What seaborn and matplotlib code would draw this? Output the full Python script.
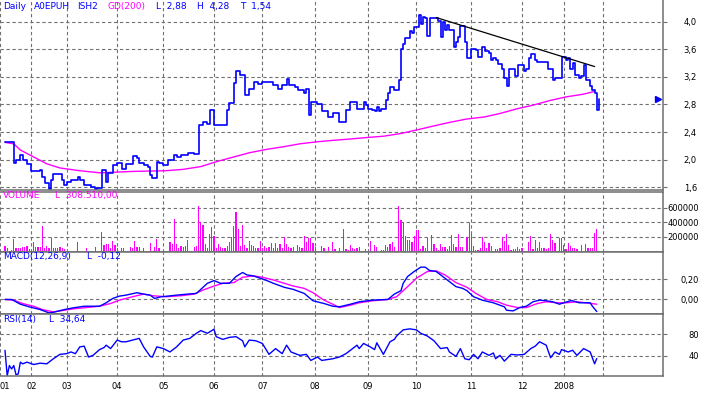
import matplotlib
matplotlib.use("Agg")
import matplotlib.pyplot as plt
import matplotlib.transforms as mtransforms
import seaborn as sns

sns.set_theme(style="white")
plt.rcParams['font.family'] = ['DejaVu Sans']
plt.rcParams['lines.scale_dashes'] = False

BLUE = '#0000ff'
MAGENTA = '#ff00ff'
GRID = '#707070'
FRAME = '#6e6e6e'

# ---------------- data ----------------
month_days = [12, 28, 51, 72, 95, 117, 141, 165, 187, 212, 235, 254, 272]
month_labels = ["02", "03", "04", "05", "06", "07", "08", "09", "10", "11", "12", "2008", ""]
first_label = "01"

price_days = [0, 4, 5, 7, 8, 10, 12, 14, 16, 17, 18, 20, 21, 22, 26, 27, 28, 30, 33, 34,
              36, 39, 41, 42, 44, 46, 47, 49, 51, 53, 55, 58, 60, 61, 63, 65, 66, 67, 69, 70,
              72, 74, 77, 78, 80, 83, 86, 88, 90, 92, 93, 95, 101, 102, 104, 105, 107, 109, 111, 113,
              115, 117, 120, 122, 124, 126, 128, 129, 132, 133, 136, 137, 138, 139, 142, 144, 147, 149, 152, 155,
              157, 160, 163, 164, 165, 167, 168, 169, 170, 171, 173, 174, 175, 177, 179, 180, 181, 182, 184, 185,
              186, 188, 189, 190, 191, 192, 193, 194, 196, 197, 198, 199, 200, 201, 202, 204, 205, 206, 207, 209,
              210, 212, 214, 215, 217, 218, 220, 221, 222, 223, 224, 226, 227, 228, 229, 232, 233, 236, 237, 238,
              239, 241, 242, 245, 247, 249, 250, 251, 253, 255, 256, 257, 258, 259, 261, 262, 263, 264, 266, 267,
              268, 269, 270]
price_vals = [2.25, 1.95, 2.00, 2.07, 1.99, 1.94, 1.84, 1.83, 1.85, 1.75, 1.66, 1.57, 1.71, 1.79, 1.71, 1.63, 1.68, 1.71, 1.75, 1.71,
              1.63, 1.61, 1.57, 1.59, 1.85, 1.68, 1.80, 1.92, 1.95, 1.87, 1.94, 2.05, 2.03, 1.95, 1.92, 1.90, 1.78, 1.73, 1.97, 1.95,
              1.92, 2.00, 2.07, 2.04, 2.07, 2.09, 2.08, 2.50, 2.54, 2.52, 2.72, 2.50, 2.72, 2.82, 3.11, 3.28, 3.23, 2.94, 3.02, 3.12,
              3.10, 3.12, 3.13, 3.08, 3.02, 3.08, 3.17, 3.08, 3.05, 3.01, 2.96, 3.02, 2.65, 2.83, 2.81, 2.70, 2.62, 2.68, 2.54, 2.72,
              2.84, 2.74, 2.84, 2.79, 2.74, 2.72, 2.70, 2.76, 2.71, 2.74, 2.87, 2.97, 3.06, 3.01, 3.16, 3.60, 3.68, 3.76, 3.86, 3.83,
              3.92, 4.09, 3.97, 4.07, 4.05, 3.79, 4.05, 4.06, 4.05, 4.01, 3.78, 3.99, 3.88, 3.95, 3.88, 3.64, 3.71, 3.78, 3.94, 3.71,
              3.47, 3.61, 3.59, 3.49, 3.63, 3.57, 3.55, 3.45, 3.47, 3.44, 3.39, 3.31, 3.19, 3.07, 3.32, 3.21, 3.37, 3.28, 3.32, 3.47,
              3.53, 3.45, 3.42, 3.41, 3.32, 3.16, 3.19, 3.18, 3.49, 3.44, 3.47, 3.31, 3.40, 3.23, 3.18, 3.21, 3.37, 3.16, 3.07, 3.01,
              2.97, 2.72, 2.88]

gd_days = [0, 4, 7, 13, 19, 25, 34, 43, 58, 73, 81, 89, 96, 104, 111, 119, 127, 134, 142, 149,
           157, 164, 172, 180, 187, 195, 202, 210, 218, 225, 233, 240, 248, 255, 263, 268]
gd_vals = [2.25, 2.23, 2.14, 2.04, 1.94, 1.88, 1.84, 1.81, 1.83, 1.84, 1.86, 1.90, 1.97, 2.04, 2.10, 2.15, 2.19, 2.23, 2.26, 2.28,
           2.30, 2.32, 2.34, 2.38, 2.43, 2.49, 2.54, 2.59, 2.62, 2.67, 2.74, 2.79, 2.86, 2.91, 2.95, 2.99]

trend_days = [196, 268]
trend_vals = [4.06, 3.35]

vol_days = [0, 1, 3, 4, 5, 6, 7, 8, 9, 10, 11, 13, 14, 15, 16, 17, 18, 19, 20, 21,
            22, 23, 24, 25, 26, 27, 33, 37, 41, 44, 45, 46, 47, 48, 49, 50, 51, 53, 54, 57,
            58, 59, 60, 61, 63, 66, 68, 69, 70, 75, 76, 77, 78, 79, 80, 81, 82, 83, 86, 87,
            88, 89, 90, 91, 92, 93, 94, 95, 96, 97, 98, 99, 100, 101, 102, 103, 104, 105, 106, 107,
            108, 109, 110, 111, 112, 113, 114, 115, 116, 117, 118, 119, 120, 121, 122, 123, 124, 125, 126, 127,
            128, 129, 130, 131, 133, 134, 135, 136, 137, 138, 139, 140, 141, 144, 145, 147, 149, 150, 152, 154,
            155, 156, 157, 158, 159, 160, 161, 164, 166, 168, 169, 171, 172, 173, 174, 175, 176, 177, 179, 180,
            181, 182, 183, 184, 185, 186, 187, 188, 189, 190, 191, 192, 194, 195, 196, 197, 198, 199, 200, 201,
            202, 203, 204, 205, 206, 207, 208, 210, 211, 212, 213, 214, 215, 216, 217, 218, 219, 220, 221, 223,
            224, 225, 226, 227, 228, 229, 230, 231, 232, 233, 234, 235, 238, 239, 240, 241, 242, 243, 244, 245,
            246, 247, 248, 249, 250, 252, 253, 254, 255, 256, 257, 258, 259, 260, 262, 264, 265, 266, 267, 268,
            269]
vol_vals = [73000, 41000, 23000, 168000, 41000, 50000, 41000, 55000, 55000, 73000, 32000, 123000, 64000, 59000, 59000, 345000, 50000, 73000, 50000, 177000,
            50000, 41000, 50000, 55000, 41000, 27000, 123000, 41000, 55000, 259000, 86000, 95000, 105000, 41000, 141000, 86000, 50000, 41000, 41000, 59000,
            50000, 141000, 59000, 59000, 50000, 109000, 55000, 168000, 41000, 123000, 95000, 450000, 95000, 41000, 68000, 55000, 68000, 155000, 64000, 77000,
            618000, 405000, 368000, 95000, 50000, 236000, 332000, 214000, 41000, 95000, 55000, 50000, 50000, 77000, 132000, 191000, 350000, 541000, 305000, 73000,
            359000, 86000, 50000, 141000, 86000, 68000, 50000, 41000, 141000, 50000, 73000, 41000, 59000, 118000, 41000, 118000, 41000, 105000, 41000, 191000,
            95000, 64000, 41000, 59000, 86000, 55000, 41000, 209000, 123000, 186000, 177000, 109000, 64000, 77000, 41000, 59000, 123000, 32000, 41000, 305000,
            27000, 18000, 86000, 50000, 27000, 41000, 64000, 27000, 141000, 86000, 64000, 18000, 18000, 86000, 55000, 105000, 123000, 59000, 623000, 432000,
            395000, 205000, 159000, 159000, 123000, 205000, 291000, 291000, 36000, 68000, 41000, 177000, 223000, 100000, 50000, 18000, 95000, 59000, 59000, 32000,
            68000, 223000, 100000, 64000, 232000, 64000, 59000, 195000, 395000, 232000, 73000, 23000, 23000, 50000, 191000, 132000, 41000, 118000, 73000, 36000,
            27000, 50000, 191000, 141000, 236000, 86000, 23000, 27000, 32000, 59000, 32000, 41000, 132000, 205000, 32000, 155000, 50000, 123000, 50000, 41000,
            36000, 50000, 232000, 155000, 118000, 186000, 177000, 86000, 32000, 118000, 73000, 50000, 50000, 32000, 86000, 95000, 50000, 50000, 50000, 250000,
            308510]

macd_days = [0, 3, 7, 11, 16, 20, 22, 27, 31, 36, 40, 43, 46, 49, 52, 55, 60, 63, 66, 68,
             71, 74, 78, 83, 87, 89, 92, 95, 98, 102, 105, 108, 110, 113, 116, 119, 122, 127, 131, 136,
             140, 145, 149, 152, 157, 161, 167, 174, 177, 180, 181, 183, 186, 189, 191, 193, 196, 199, 202, 205,
             208, 210, 213, 217, 222, 227, 228, 231, 234, 237, 240, 243, 246, 249, 252, 257, 258, 261, 266, 267,
             269]
macd_vals = [0.0, 0.0, -0.047, -0.073, -0.10, -0.133, -0.127, -0.10, -0.083, -0.067, -0.067, -0.067, -0.033, 0.01, 0.033, 0.043, 0.067, 0.053, 0.043, 0.01,
             0.027, 0.033, 0.043, 0.053, 0.06, 0.10, 0.16, 0.187, 0.16, 0.16, 0.227, 0.267, 0.243, 0.233, 0.21, 0.187, 0.16, 0.12, 0.10, 0.06,
             -0.013, -0.04, -0.067, -0.073, -0.047, -0.023, -0.007, 0.0, 0.053, 0.087, 0.16, 0.227, 0.277, 0.32, 0.32, 0.287, 0.277, 0.227, 0.177, 0.127,
             0.11, 0.087, 0.027, -0.007, -0.033, -0.073, -0.107, -0.113, -0.08, -0.067, -0.023, -0.007, -0.013, -0.023, -0.047, -0.013, -0.013, -0.033, -0.033, -0.067,
             -0.12]

sig_days = [0, 4, 8, 13, 17, 22, 27, 31, 37, 43, 48, 52, 58, 63, 67, 73, 80, 86, 90, 95,
            99, 104, 108, 113, 117, 122, 127, 131, 136, 140, 145, 149, 152, 157, 161, 167, 174, 178, 183, 187,
            192, 196, 200, 205, 210, 214, 219, 224, 228, 233, 237, 242, 246, 251, 255, 260, 264, 269]
sig_vals = [0.0, -0.007, -0.04, -0.067, -0.10, -0.123, -0.107, -0.093, -0.08, -0.067, -0.04, -0.007, 0.027, 0.053, 0.037, 0.027, 0.037, 0.053, 0.093, 0.133,
            0.16, 0.167, 0.22, 0.233, 0.22, 0.193, 0.16, 0.133, 0.11, 0.067, -0.007, -0.047, -0.08, -0.057, -0.033, -0.013, 0.0, 0.027, 0.127, 0.21,
            0.277, 0.283, 0.243, 0.167, 0.12, 0.06, 0.0, -0.023, -0.057, -0.08, -0.08, -0.04, -0.023, -0.033, -0.033, -0.023, -0.033, -0.047]

rsi_days = [0, 1, 2, 3, 4, 5, 6, 7, 8, 10, 13, 16, 19, 22, 25, 28, 30, 32, 34, 36,
            38, 40, 43, 45, 46, 48, 51, 53, 55, 58, 61, 63, 66, 67, 69, 72, 75, 78, 81, 84,
            87, 89, 92, 95, 96, 99, 102, 105, 108, 109, 111, 114, 117, 120, 123, 126, 128, 130, 134, 137,
            139, 142, 144, 149, 152, 155, 158, 160, 161, 163, 166, 168, 169, 172, 175, 177, 178, 181, 184, 187,
            189, 192, 195, 198, 201, 202, 205, 207, 209, 211, 213, 215, 217, 220, 222, 223, 225, 227, 230, 233,
            236, 239, 241, 243, 246, 248, 250, 252, 253, 256, 258, 260, 263, 266, 268, 269]
rsi_vals = [50, 2.5, 21.6, 15.2, 21.6, 4.4, 5.7, 27.9, 24.8, 27.9, 23.5, 26, 24.8, 34.3, 42.5, 43.8, 47, 43.8, 56.5, 57.8,
            37.5, 40.6, 51.4, 55.2, 59.7, 53.3, 69.2, 66, 66, 69.2, 72.4, 56.5, 38.7, 37.5, 56.5, 53.3, 47, 56.5, 69.2, 72.4,
            81.9, 87, 81.9, 89.5, 75.6, 70.5, 74.3, 75.6, 67.9, 56.5, 69.2, 67.9, 62.9, 42.5, 53.3, 43.8, 59.7, 47, 40.6, 42.5,
            31.1, 37.5, 31.1, 34.3, 37.5, 43.8, 53.3, 59.7, 53.3, 62.9, 56.5, 51.4, 64.1, 42.5, 66, 70.5, 76.8, 88.3, 90.2, 88.3,
            81.9, 76.8, 67.9, 53.3, 55.2, 47, 38.7, 53.3, 34.3, 32.4, 42.5, 34.3, 47, 40.6, 45.1, 34.3, 40.6, 29.8, 42.5, 41.3,
            42.5, 53.3, 57.8, 66, 59.7, 36.2, 47, 42.5, 51.4, 47, 50.2, 40.6, 53.3, 47, 24.8, 34.64]

price_ticks = [1.6, 2.0, 2.4, 2.8, 3.2, 3.6, 4.0]
price_tick_labels = ["1,6", "2,0", "2,4", "2,8", "3,2", "3,6", "4,0"]
vol_ticks = [200000, 400000, 600000]
vol_tick_labels = ["200000", "400000", "600000"]
macd_ticks = [0.0, 0.2]
macd_tick_labels = ["0,00", "0,20"]
rsi_ticks = [40, 80]
rsi_tick_labels = ["40", "80"]

# ---------------- layout ----------------
W, H = 704, 394
fig = plt.figure(figsize=(W / 100, H / 100), dpi=100)
fig.patch.set_facecolor('white')


def add_panel(top, bottom):
    return fig.add_axes([0.0, 1 - bottom / H, 663 / W, (bottom - top) / H])


ax_p = add_panel(0.0, 189.5)
ax_v = add_panel(191.5, 252)
ax_m = add_panel(252, 314)
ax_r = add_panel(314, 376)

XMIN, XMAX = -2.27, 299.1

# ---------------- marks ----------------
sns.lineplot(x=gd_days, y=gd_vals, ax=ax_p, color=MAGENTA, lw=1.0, estimator=None, sort=False)
sns.lineplot(x=price_days, y=price_vals, ax=ax_p, color=BLUE, lw=1.2, drawstyle='steps-post',
             estimator=None, sort=False)
sns.lineplot(x=trend_days, y=trend_vals, ax=ax_p, color='black', lw=0.9, estimator=None, sort=False)

sns.histplot(x=vol_days, weights=vol_vals, discrete=True, shrink=0.5, color=MAGENTA, alpha=1,
             linewidth=0, antialiased=False, ax=ax_v)

sns.lineplot(x=sig_days, y=sig_vals, ax=ax_m, color=MAGENTA, lw=1.0, estimator=None, sort=False)
sns.lineplot(x=macd_days, y=macd_vals, ax=ax_m, color=BLUE, lw=1.0, estimator=None, sort=False)

sns.lineplot(x=rsi_days, y=rsi_vals, ax=ax_r, color=BLUE, lw=1.0, estimator=None, sort=False)

# last price marker on the right edge
trans = mtransforms.blended_transform_factory(ax_p.transAxes, ax_p.transData)
ax_p.plot([0.993], [price_vals[-1]], marker='>', ms=4, color=BLUE, transform=trans, clip_on=False)

# ---------------- styling ----------------
panels = [
    (ax_p, (1.568, 4.3145), price_ticks, price_tick_labels, 21.5),
    (ax_v, (-9500, 822000), vol_ticks, vol_tick_labels, 23.0),
    (ax_m, (-0.144, 0.470), macd_ticks, macd_tick_labels, 23.0),
    (ax_r, (2, 118), rsi_ticks, rsi_tick_labels, 23.0),
]
for ax, ylim, yt, ytl, pad in panels:
    ax.set_facecolor('white')
    ax.set_xlim(XMIN, XMAX)
    ax.set_ylim(*ylim)
    ax.set_xlabel('')
    ax.set_ylabel('')
    ax.set_xticks([XMIN] + month_days)
    ax.set_yticks(yt)
    ax.yaxis.tick_right()
    ax.set_yticklabels(ytl)
    ax.tick_params(axis='y', which='both', right=True, left=False, length=2.9, width=0.8,
                   color=GRID, pad=pad, labelsize=6, labelcolor='black', direction='out')
    for lab in ax.get_yticklabels():
        lab.set_ha('right')
    ax.tick_params(axis='x', bottom=False, top=False, length=0)
    ax.grid(True, color=GRID, linestyle=(0, (2.4, 1.9)), linewidth=0.8)
    ax.set_axisbelow(True)
    for s in ax.spines.values():
        s.set_visible(True)
        s.set_color(FRAME)
        s.set_linewidth(1.1)
    ax.spines['left'].set_visible(False)
    if ax is not ax_r:
        ax.set_xticklabels([])

ax_p.spines['top'].set_visible(False)

ax_r.set_xticklabels([first_label] + month_labels)
ax_r.tick_params(axis='x', labelsize=6, labelcolor='black', pad=4.5)
ax_r.get_xticklabels()[0].set_ha('left')


def label(x, y, s, color):
    fig.text(x / W, 1 - y / H, s, color=color, fontsize=6.5, va='center', ha='left')


label(3, 6.5, "Daily", BLUE)
label(34, 6.5, "A0EPUH", BLUE)
label(77, 6.5, "ISH2", BLUE)
label(108, 6.5, "GD(200)", MAGENTA)
label(156, 6.5, "L  2,88", BLUE)
label(197, 6.5, "H  4,28", BLUE)
label(240, 6.5, "T  1,54", BLUE)

label(3, 195.7, "VOLUME", MAGENTA)
label(55, 195.7, "L  308.510,00", MAGENTA)
label(3, 257, "MACD(12,26,9)", BLUE)
label(87, 257, "L  -0,12", BLUE)
label(3, 319.7, "RSI(14)", BLUE)
label(49, 319.7, "L  34,64", BLUE)

fig.savefig("out.png", dpi=100, facecolor='white')
